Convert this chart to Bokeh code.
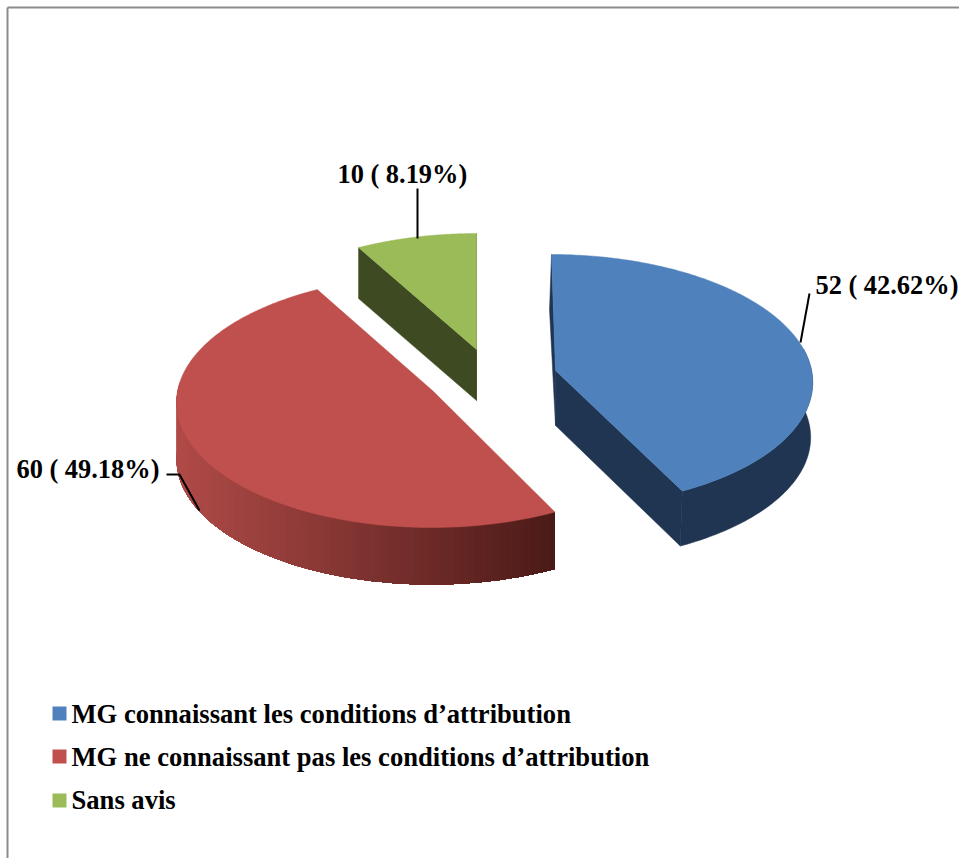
import numpy as np
from bokeh.plotting import figure
from bokeh.models import Range1d
from bokeh.core.properties import value
from bokeh.embed import file_html
from bokeh.resources import INLINE

categories = ["MG connaissant les conditions d’attribution",
              "MG ne connaissant pas les conditions d’attribution",
              "Sans avis"]
counts = [52, 60, 10]
percents = ["42.62", "49.18", "8.19"]

TOP = ["#4F81BD", "#C0504D", "#9BBB59"]
SIDE = ["#1F3552", None, "#3D4A22"]
FONT = value("Liberation Serif")

p = figure(width=959, height=858, x_range=Range1d(0, 959), y_range=Range1d(858, 0),
           output_backend="svg", toolbar_location=None, min_border=0,
           outline_line_color=None, x_axis_type="linear")
p.axis.visible = False
p.grid.visible = False

# projection of the tilted disc
RX, RY, K = 256.0, 125.2, 0.0794
centers = [(555, 370), (433, 391), (476, 349)]
depths = [55, 57, 51]
shears = [4, -2, 0]
wall_dx = [-2, 0, 0]


def rim(i, deg):
    a = np.radians(np.asarray(deg, dtype=float))
    u, v = np.sin(a), np.cos(a)
    s = 1 / (1 + K * v)
    return (centers[i][0] + RX * u * s - shears[i] * v,
            centers[i][1] - RY * v * s)


total = sum(counts)
edges = np.cumsum([0] + counts) / total * 360
a0, a1 = edges[:-1], edges[1:]


def wall(i, d0, d1, color):
    deg = np.linspace(d0, d1, 80)
    x, y = rim(i, deg)
    xs = np.r_[x, x[::-1] + wall_dx[i]]
    ys = np.r_[y, y[::-1] + depths[i]]
    p.patch(xs, ys, fill_color=color, line_color=color, line_width=0.5)


def flat_wall(i, deg, color):
    x, y = rim(i, deg)
    cx, cy = centers[i]
    d = depths[i]
    p.patch([x, cx, cx, x + wall_dx[i]], [y, cy, cy + d, y + d],
            fill_color=color, line_color=color, line_width=0.5)


def top_face(i):
    x, y = rim(i, np.linspace(a0[i], a1[i], 200))
    cx, cy = centers[i]
    p.patch(np.r_[cx, x], np.r_[cy, y], fill_color=TOP[i], line_color=TOP[i], line_width=0.5)


# green slice
flat_wall(2, a0[2], SIDE[2])
flat_wall(2, a1[2], SIDE[2])
top_face(2)

# red slice: outer wall with left-to-right shading, each band painted over the next
steps = np.linspace(275, a0[1], 90)
c_left = np.array([0xB0, 0x4B, 0x48])
c_right = np.array([0x4A, 0x1A, 0x17])
for k in range(len(steps) - 1):
    x, y = rim(1, steps[k:])
    f = np.clip((x[0] - 176) / (555 - 176), 0, 1)
    c = (c_left + (c_right - c_left) * f).astype(int)
    col = "#%02x%02x%02x" % tuple(c)
    p.patch(np.r_[x, x[::-1]], np.r_[y, y[::-1] + depths[1]],
            fill_color=col, line_color=None)
top_face(1)

# blue slice
flat_wall(0, a0[0], SIDE[0])
flat_wall(0, a1[0], SIDE[0])
wall(0, 80, a1[0], SIDE[0])
top_face(0)

# leader lines
p.line([417, 417], [188, 238], line_color="black", line_width=2)
p.line([809, 800], [293, 342], line_color="black", line_width=2)
p.line([166, 179, 199], [474, 474, 510], line_color="black", line_width=2)

# slice labels
labels = ["%d ( %s%%)" % (c, q) for c, q in zip(counts, percents)]
lx = [815, 16, 337]
ly = [284, 468, 173]
p.text(lx, ly, text=labels, text_font=FONT, text_font_style="bold",
       text_font_size="26.4px", text_color="black", text_align="left", text_baseline="middle")

# legend
lgx, lgy = 52, [706, 749, 793]
p.quad(left=[lgx] * 3, right=[lgx + 14] * 3, top=lgy, bottom=[y + 14 for y in lgy],
       fill_color=TOP, line_color=None)
p.text([71] * 3, [713, 756, 799], text=categories, text_font=FONT, text_font_style="bold",
       text_font_size="26.6px", text_color="black", text_align="left", text_baseline="middle")

# frame
p.line([7, 7], [7, 858], line_color="#8c8c8c", line_width=2)
p.line([7, 959], [7, 7], line_color="#8c8c8c", line_width=2)

open("out.html", "w").write(file_html(p, INLINE))
